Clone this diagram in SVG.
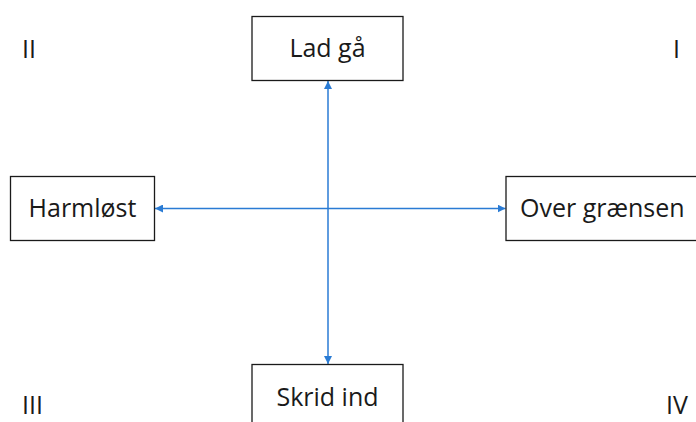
<svg xmlns="http://www.w3.org/2000/svg" width="696" height="422" viewBox="0 0 696 422">
<style>
.box{fill:#fff;stroke:#1a1a1a;stroke-width:1.3}
.t{font-family:"Open Sans","Liberation Sans",sans-serif;font-size:25px;fill:#1a1a1a}
.c{stroke:#2a7bd4;stroke-width:1.5;fill:none;marker-start:url(#a);marker-end:url(#a)}
</style>
<defs>
<marker id="a" viewBox="0 0 10 10" refX="10" refY="5" markerWidth="8" markerHeight="8" markerUnits="userSpaceOnUse" orient="auto-start-reverse">
<path d="M0,0 L10,5 L0,10 z" fill="#2a7bd4"/>
</marker>
</defs>
<rect width="696" height="422" fill="#fff"/>
<g id="connectors">
<line class="c" x1="328" y1="81" x2="328" y2="364"/>
<line class="c" x1="155" y1="208.5" x2="505.5" y2="208.5"/>
</g>
<g id="lad-ga"><rect class="box" x="252" y="16.5" width="151" height="64"/><text class="t" x="327.5" y="57" text-anchor="middle">Lad gå</text></g>
<g id="harmlost"><rect class="box" x="10.5" y="176.5" width="144" height="64"/><text class="t" x="82.5" y="217" text-anchor="middle">Harmløst</text></g>
<g id="over-graensen"><rect class="box" x="506" y="176.5" width="200" height="64"/><text class="t" x="520" y="217">Over grænsen</text></g>
<g id="skrid-ind"><rect class="box" x="252" y="364.5" width="151" height="64"/><text class="t" x="327.5" y="405.5" text-anchor="middle">Skrid ind</text></g>
<g id="quadrants">
<text class="t" x="22" y="58">II</text>
<text class="t" x="673" y="58">I</text>
<text class="t" x="22" y="414">III</text>
<text class="t" x="666" y="414">IV</text>
</g>
</svg>
